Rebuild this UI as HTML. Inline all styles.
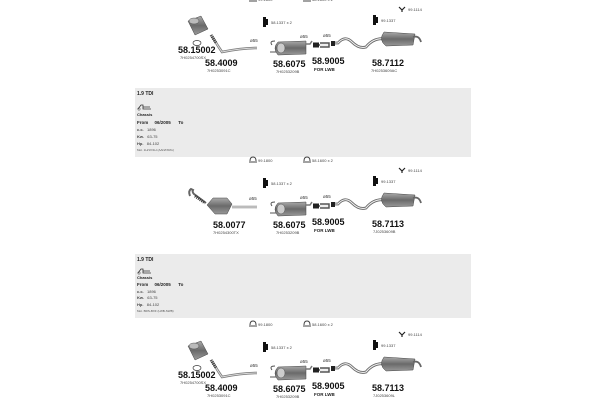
<!DOCTYPE html>
<html><head><meta charset="utf-8"><style>
html,body{margin:0;padding:0;background:#fff}
svg{display:block}
text{font-family:"Liberation Sans",sans-serif;fill:#222}
.b{font-weight:bold;font-size:9px;fill:#111}
.s{font-size:4px;fill:#444}
.m{font-size:4.5px;fill:#333}
.f{font-size:4.5px;font-weight:bold;fill:#222}
</style></head><body>
<svg width="600" height="400" viewBox="0 0 600 400" xmlns="http://www.w3.org/2000/svg">
<defs>
<linearGradient id="g" x1="0" y1="0" x2="0" y2="1"><stop offset="0" stop-color="#aaa"/><stop offset="0.5" stop-color="#6a6a6a"/><stop offset="1" stop-color="#999"/></linearGradient>
<g id="brk">
 <path d="M0,4 q0,-4 3,-4 q3,0 3,4 M-1,5 h8" stroke="#444" stroke-width="1" fill="none"/>
</g>
<g id="hang"><path d="M0,0 h3 v2 h2 v6 h-2 v2 h-3 z" fill="#111"/></g>
<g id="hook"><path d="M0,0 l3,3 l3,-3 M3,3 v2" stroke="#222" stroke-width="1.2" fill="none"/></g>
<g id="mid">
 <path d="M272,45 q-3,-4 3,-4 M270,52 h6" stroke="#555" stroke-width="1" fill="none"/>
 <path d="M278,42 q-6,6 0,13 l28,-1 l0,-13 z" fill="url(#g)" stroke="#444" stroke-width="0.5"/>
 <ellipse cx="281" cy="48" rx="4" ry="5" fill="#ccc" stroke="#555" stroke-width="0.5"/>
 <path d="M306,44 h4 l2,-3" stroke="#777" stroke-width="1.5" fill="none"/>
 <text class="m" x="300" y="38">ø55</text>
 <path d="M314,45 h6 M320,43 h9 v4 h-9" stroke="#555" stroke-width="1.5" fill="#eee"/>
 <rect x="313" y="42.5" width="6" height="5" fill="#222"/>
 <text class="m" x="323" y="37">ø55</text>
 <path d="M333,43 h5 q7,-8 14,-1 t14,5 q8,-10 20,-8" stroke="#666" stroke-width="2.8" fill="none"/>
 <path d="M333,43 h5 q7,-8 14,-1 t14,5 q8,-10 20,-8" stroke="#eee" stroke-width="1.1" fill="none"/>
 <rect x="331" y="41" width="4" height="5" fill="#222"/>
 <path d="M384,32 q-6,8 2,14 l27,-1 l2,-11 z" fill="url(#g)" stroke="#444" stroke-width="0.5"/>
 <path d="M413,37 q6,-2 8,5" stroke="#666" stroke-width="1.8" fill="none"/>
 <use href="#hang" x="373" y="15"/><text class="s" x="381" y="22">99.1337</text>
 <use href="#hook" x="399" y="7"/><text class="s" x="408" y="11">99.1114</text>
 <use href="#hang" x="263" y="17"/><text class="s" x="271" y="24">58.1337 x 2</text>
 <text class="b" x="273" y="67">58.6075</text><text class="s" x="276" y="73">7H0253209B</text>
 <text class="b" x="312" y="64">58.9005</text><text class="f" x="314" y="71">FOR LWB</text>
</g>
<g id="front">
 <path d="M188,21 l13,-5 l7,13 l-13,6 z" fill="url(#g)" stroke="#444" stroke-width="0.5"/>
 <ellipse cx="194" cy="21" rx="5" ry="3" fill="#bbb" stroke="#555" stroke-width="0.5"/>
 <ellipse cx="197" cy="43" rx="4" ry="2.5" fill="#fff" stroke="#333" stroke-width="0.7"/>
 <path d="M212,36 l6,10 l4,6 q20,-4 35,-4" stroke="#777" stroke-width="2.5" fill="none"/>
 <path d="M212,36 l6,10 l4,6 q20,-4 35,-4" stroke="#ddd" stroke-width="1" fill="none"/>
 <path d="M211,35 l5,8" stroke="#333" stroke-width="3" stroke-dasharray="1,1"/>
 <text class="m" x="250" y="42">ø55</text>
 <text class="b" x="178" y="53">58.15002</text><text class="s" x="180" y="59">7H0254700SX</text>
 <text class="b" x="205" y="66">58.4009</text><text class="s" x="207" y="72">7H0253091C</text>
</g>
</defs>

<rect x="135" y="88" width="336" height="69" fill="#ebebeb"/>
<rect x="135" y="254" width="336" height="64" fill="#ebebeb"/>

<use href="#brk" x="250" y="-4"/><text class="s" x="258" y="1">99.1800</text>
<use href="#brk" x="304" y="-4"/><text class="s" x="312" y="1">58.1600 x 2</text>
<use href="#front"/>
<use href="#mid"/>
<text class="b" x="372" y="66">58.7112</text><text class="s" x="371" y="72">7H0253609AC</text>

<g>
<text x="137" y="95" style="font-size:5px;font-weight:bold">1.9 TDI</text>
<path d="M138,109 l3,-4 h2 v4 h8 M143,107 h7" stroke="#333" stroke-width="0.8" fill="none"/><circle cx="139" cy="109" r="1.2" fill="none" stroke="#333" stroke-width="0.5"/>
<text x="137" y="116" style="font-size:4px;font-weight:bold">Chassis</text>
<text x="137" y="124" style="font-size:4.5px;font-weight:bold">From&#160;&#160;&#160;&#160;&#160;06/2005&#160;&#160;&#160;&#160;&#160;&#160;To</text>
<text class="s" x="137" y="131"><tspan font-weight="bold">c.c.</tspan>&#160;&#160;&#160;1896</text>
<text class="s" x="137" y="138"><tspan font-weight="bold">Kw.</tspan>&#160;&#160;&#160;63-75</text>
<text class="s" x="137" y="145"><tspan font-weight="bold">Hp.</tspan>&#160;&#160;&#160;84-102</text>
<text x="137" y="151" style="font-size:3px;fill:#555">Mot. 1H/1X/1H (AAN/IXRG)</text>
</g>
<g transform="translate(0,166)">
<text x="137" y="95" style="font-size:5px;font-weight:bold">1.9 TDI</text>
<path d="M138,107 l3,-4 h2 v4 h8 M143,105 h7" stroke="#333" stroke-width="0.8" fill="none"/><circle cx="139" cy="107" r="1.2" fill="none" stroke="#333" stroke-width="0.5"/>
<text x="137" y="113" style="font-size:4px;font-weight:bold">Chassis</text>
<text x="137" y="120" style="font-size:4.5px;font-weight:bold">From&#160;&#160;&#160;&#160;&#160;06/2005&#160;&#160;&#160;&#160;&#160;&#160;To</text>
<text class="s" x="137" y="127"><tspan font-weight="bold">c.c.</tspan>&#160;&#160;&#160;1896</text>
<text class="s" x="137" y="133"><tspan font-weight="bold">Kw.</tspan>&#160;&#160;&#160;63-75</text>
<text class="s" x="137" y="140"><tspan font-weight="bold">Hp.</tspan>&#160;&#160;&#160;84-102</text>
<text x="137" y="146" style="font-size:3px;fill:#555">Mot. BRS-BXF (LWB-SWB)</text>
</g>

<g transform="translate(0,161)">
<use href="#brk" x="250" y="-4"/><text class="s" x="258" y="1">99.1800</text>
<use href="#brk" x="304" y="-4"/><text class="s" x="312" y="1">58.1600 x 2</text>
<use href="#mid"/>
<path d="M190,35 q-2,-5 1,-7 l2,1 q-1,2 1,4 l8,6 l4,3" stroke="#666" stroke-width="2" fill="none"/>
<path d="M195,35 l10,7" stroke="#333" stroke-width="3" stroke-dasharray="1,1"/>
<path d="M207,44 l6,-7 h14 l5,6 l-5,10 h-12 z" fill="url(#g)" stroke="#444" stroke-width="0.5"/>
<path d="M232,46 h25" stroke="#888" stroke-width="2.5"/><path d="M232,46 h25" stroke="#eee" stroke-width="1"/>
<text class="m" x="249" y="39">ø55</text>
<text class="b" x="213" y="67">58.0077</text><text class="s" x="213" y="73">7H0254300TX</text>
<text class="b" x="372" y="66">58.7113</text><text class="s" x="373" y="72">7J0253609B</text>
</g>

<g transform="translate(0,325)">
<use href="#brk" x="250" y="-4"/><text class="s" x="258" y="1">99.1800</text>
<use href="#brk" x="304" y="-4"/><text class="s" x="312" y="1">58.1600 x 2</text>
<use href="#front"/>
<use href="#mid"/>
<text class="b" x="372" y="66">58.7113</text><text class="s" x="373" y="72">7J0253609L</text>
</g>
</svg>
</body></html>
